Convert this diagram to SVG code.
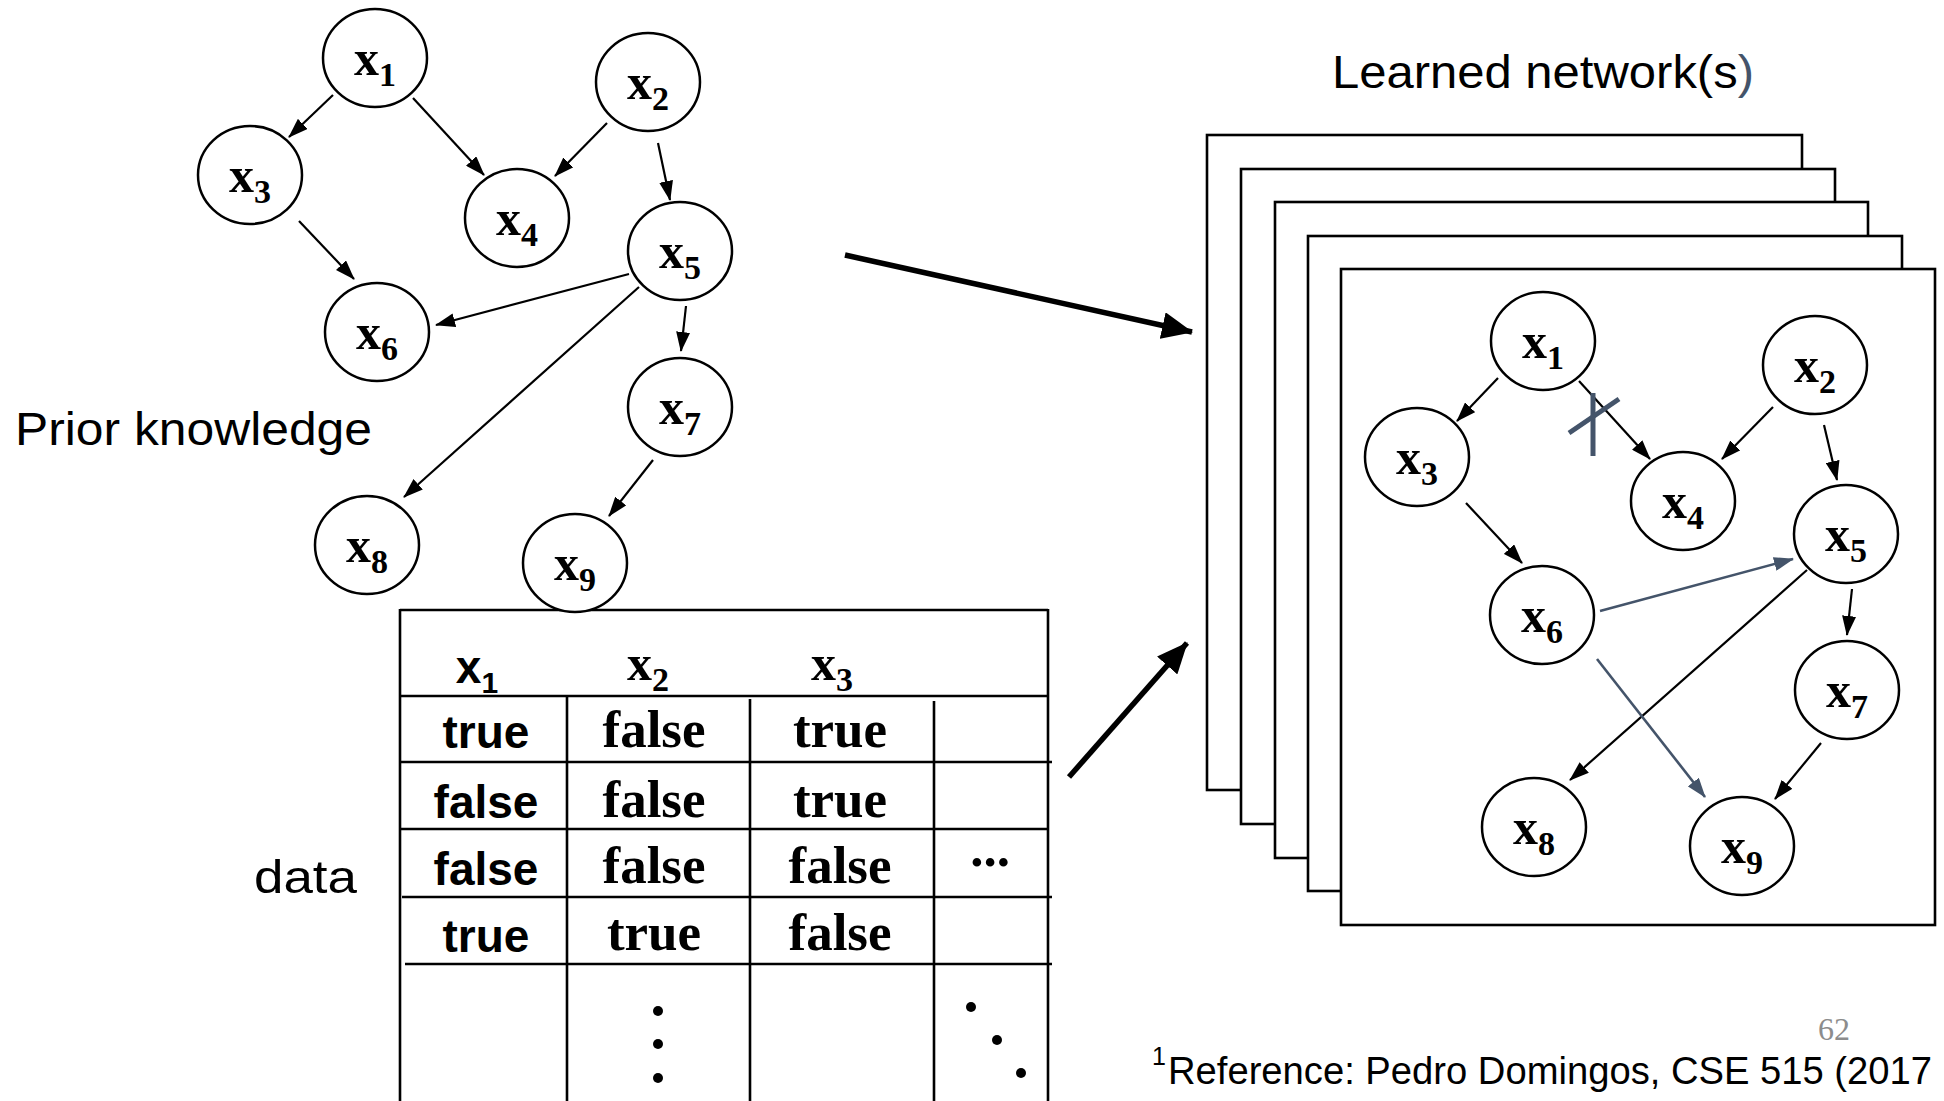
<svg xmlns="http://www.w3.org/2000/svg" width="1944" height="1101" viewBox="0 0 1944 1101">
<style>
  .node ellipse { fill: #fff; stroke: #000; stroke-width: 2.5; }
  .lbl { font-family: "Liberation Serif", "Times New Roman", serif; font-weight: bold; font-size: 50px; fill: #000; text-anchor: middle; }
  .sub { font-size: 34px; }
  .edge { stroke: #000; stroke-width: 2.2; fill: none; marker-end: url(#ah); }
  .edge2 { stroke: #44546A; stroke-width: 2.6; fill: none; marker-end: url(#ah2); }
  .big { stroke: #000; stroke-width: 5.5; fill: none; marker-end: url(#bh); }
  .frame { fill: #fff; stroke: #000; stroke-width: 2.6; }
  .tline { stroke: #000; stroke-width: 2.6; fill: none; }
  .serifcell { font-family: "Liberation Serif", "Times New Roman", serif; font-weight: bold; font-size: 53px; text-anchor: middle; }
  .sanscell { font-family: "Liberation Sans", Arial, sans-serif; font-weight: bold; font-size: 46px; text-anchor: middle; }
  .caption { font-family: "Liberation Sans", Arial, sans-serif; font-size: 46px; fill: #000; }
</style>
<defs>
  <marker id="ah" markerUnits="userSpaceOnUse" markerWidth="20" markerHeight="14" refX="19" refY="7" orient="auto">
    <path d="M0,0 L20,7 L0,14 z" fill="#000"/>
  </marker>
  <marker id="ah2" markerUnits="userSpaceOnUse" markerWidth="20" markerHeight="14" refX="19" refY="7" orient="auto">
    <path d="M0,0 L20,7 L0,14 z" fill="#44546A"/>
  </marker>
  <marker id="bh" markerUnits="userSpaceOnUse" markerWidth="31" markerHeight="27" refX="30" refY="13.5" orient="auto">
    <path d="M0,0 L31,13.5 L0,27 z" fill="#000"/>
  </marker>
</defs>
<rect x="0" y="0" width="1944" height="1101" fill="#fff"/>

<!-- captions -->
<text class="caption" x="15" y="445" textLength="357" lengthAdjust="spacingAndGlyphs">Prior knowledge</text>
<text class="caption" x="254" y="893" textLength="103" lengthAdjust="spacingAndGlyphs">data</text>
<text class="caption" x="1332" y="88" textLength="422" lengthAdjust="spacingAndGlyphs">Learned network(s<tspan fill="#44546A">)</tspan></text>

<!-- data table -->
<g id="table">
  <line class="tline" x1="400" y1="610" x2="1048" y2="610"/>
  <line class="tline" x1="400" y1="609" x2="400" y2="1101"/>
  <line class="tline" x1="1048" y1="609" x2="1048" y2="1101"/>
  <line class="tline" x1="400" y1="696" x2="1048" y2="696"/>
  <line class="tline" x1="400" y1="762" x2="1052" y2="762"/>
  <line class="tline" x1="401" y1="829" x2="1048" y2="829"/>
  <line class="tline" x1="402" y1="897" x2="1052" y2="897"/>
  <line class="tline" x1="405" y1="964" x2="1052" y2="964"/>
  <line class="tline" x1="567" y1="696" x2="567" y2="1101"/>
  <line class="tline" x1="750" y1="699" x2="750" y2="1101"/>
  <line class="tline" x1="934" y1="701" x2="934" y2="1101"/>
  <text class="sanscell" x="477" y="683" font-size="40">x<tspan dy="10" font-size="30">1</tspan></text>
  <text class="lbl" x="648" y="680">x<tspan class="sub" dy="11">2</tspan></text>
  <text class="lbl" x="832" y="680">x<tspan class="sub" dy="11">3</tspan></text>
  <text class="sanscell" x="486" y="748">true</text>
  <text class="serifcell" x="654" y="747">false</text>
  <text class="serifcell" x="840" y="747">true</text>
  <text class="sanscell" x="486" y="818">false</text>
  <text class="serifcell" x="654" y="817">false</text>
  <text class="serifcell" x="840" y="817">true</text>
  <text class="sanscell" x="486" y="885">false</text>
  <text class="serifcell" x="654" y="883">false</text>
  <text class="serifcell" x="840" y="883">false</text>
  <text class="serifcell" x="990" y="866">...</text>
  <text class="sanscell" x="486" y="952">true</text>
  <text class="serifcell" x="654" y="950">true</text>
  <text class="serifcell" x="840" y="950">false</text>
  <circle cx="658" cy="1011" r="5"/>
  <circle cx="658" cy="1044" r="5"/>
  <circle cx="658" cy="1078" r="5"/>
  <circle cx="971" cy="1007" r="5"/>
  <circle cx="997" cy="1040" r="5"/>
  <circle cx="1021" cy="1073" r="5"/>
</g>

<!-- stacked frames -->
<g id="frames">
  <rect class="frame" x="1207" y="135" width="595" height="655"/>
  <rect class="frame" x="1241" y="169" width="594" height="655"/>
  <rect class="frame" x="1275" y="202" width="593" height="656"/>
  <rect class="frame" x="1308" y="236" width="594" height="655"/>
  <rect class="frame" x="1341" y="269" width="594" height="656"/>
</g>

<!-- connectors -->
<g id="connectors">
  <line class="edge" x1="333" y1="95" x2="289" y2="137"/>
  <line class="edge" x1="413" y1="98" x2="484" y2="175"/>
  <line class="edge" x1="607" y1="123" x2="555" y2="176"/>
  <line class="edge" x1="658" y1="143" x2="670" y2="200"/>
  <line class="edge" x1="299" y1="221" x2="354" y2="279"/>
  <line class="edge" x1="629" y1="274" x2="436" y2="325"/>
  <line class="edge" x1="639" y1="287" x2="404" y2="497"/>
  <line class="edge" x1="686" y1="306" x2="681" y2="351"/>
  <line class="edge" x1="653" y1="460" x2="609" y2="516"/>

  <line class="big" x1="845" y1="255" x2="1192" y2="332"/>
  <line class="big" x1="1069" y1="777" x2="1187" y2="643"/>

  <line class="edge" x1="1498" y1="378" x2="1457" y2="421"/>
  <line class="edge" x1="1579" y1="381" x2="1650" y2="459"/>
  <line class="edge" x1="1773" y1="407" x2="1722" y2="459"/>
  <line class="edge" x1="1824" y1="425" x2="1837" y2="480"/>
  <line class="edge" x1="1466" y1="503" x2="1522" y2="563"/>
  <line class="edge2" x1="1600" y1="611" x2="1793" y2="559"/>
  <line class="edge" x1="1807" y1="570" x2="1570" y2="780"/>
  <line class="edge" x1="1852" y1="589" x2="1847" y2="635"/>
  <line class="edge2" x1="1597" y1="659" x2="1705" y2="797"/>
  <line class="edge" x1="1821" y1="743" x2="1775" y2="799"/>
  <line x1="1593" y1="393" x2="1593" y2="456" stroke="#44546A" stroke-width="5"/>
  <line x1="1569" y1="433" x2="1619" y2="399" stroke="#44546A" stroke-width="5"/>
</g>

<!-- prior network nodes -->
<g id="p1" class="node"><ellipse cx="375" cy="58" rx="52" ry="49"/><text class="lbl" x="375" y="75">x<tspan class="sub" dy="11">1</tspan></text></g>
<g id="p2" class="node"><ellipse cx="648" cy="82" rx="52" ry="49"/><text class="lbl" x="648" y="99">x<tspan class="sub" dy="11">2</tspan></text></g>
<g id="p3" class="node"><ellipse cx="250" cy="175" rx="52" ry="49"/><text class="lbl" x="250" y="192">x<tspan class="sub" dy="11">3</tspan></text></g>
<g id="p4" class="node"><ellipse cx="517" cy="218" rx="52" ry="49"/><text class="lbl" x="517" y="235">x<tspan class="sub" dy="11">4</tspan></text></g>
<g id="p5" class="node"><ellipse cx="680" cy="251" rx="52" ry="49"/><text class="lbl" x="680" y="268">x<tspan class="sub" dy="11">5</tspan></text></g>
<g id="p6" class="node"><ellipse cx="377" cy="332" rx="52" ry="49"/><text class="lbl" x="377" y="349">x<tspan class="sub" dy="11">6</tspan></text></g>
<g id="p7" class="node"><ellipse cx="680" cy="407" rx="52" ry="49"/><text class="lbl" x="680" y="424">x<tspan class="sub" dy="11">7</tspan></text></g>
<g id="p8" class="node"><ellipse cx="367" cy="545" rx="52" ry="49"/><text class="lbl" x="367" y="562">x<tspan class="sub" dy="11">8</tspan></text></g>
<g id="p9" class="node"><ellipse cx="575" cy="563" rx="52" ry="49"/><text class="lbl" x="575" y="580">x<tspan class="sub" dy="11">9</tspan></text></g>

<!-- learned network nodes -->
<g id="l1" class="node"><ellipse cx="1543" cy="341" rx="52" ry="49"/><text class="lbl" x="1543" y="358">x<tspan class="sub" dy="11">1</tspan></text></g>
<g id="l2" class="node"><ellipse cx="1815" cy="365" rx="52" ry="49"/><text class="lbl" x="1815" y="382">x<tspan class="sub" dy="11">2</tspan></text></g>
<g id="l3" class="node"><ellipse cx="1417" cy="457" rx="52" ry="49"/><text class="lbl" x="1417" y="474">x<tspan class="sub" dy="11">3</tspan></text></g>
<g id="l4" class="node"><ellipse cx="1683" cy="501" rx="52" ry="49"/><text class="lbl" x="1683" y="518">x<tspan class="sub" dy="11">4</tspan></text></g>
<g id="l5" class="node"><ellipse cx="1846" cy="534" rx="52" ry="49"/><text class="lbl" x="1846" y="551">x<tspan class="sub" dy="11">5</tspan></text></g>
<g id="l6" class="node"><ellipse cx="1542" cy="615" rx="52" ry="49"/><text class="lbl" x="1542" y="632">x<tspan class="sub" dy="11">6</tspan></text></g>
<g id="l7" class="node"><ellipse cx="1847" cy="690" rx="52" ry="49"/><text class="lbl" x="1847" y="707">x<tspan class="sub" dy="11">7</tspan></text></g>
<g id="l8" class="node"><ellipse cx="1534" cy="827" rx="52" ry="49"/><text class="lbl" x="1534" y="844">x<tspan class="sub" dy="11">8</tspan></text></g>
<g id="l9" class="node"><ellipse cx="1742" cy="846" rx="52" ry="49"/><text class="lbl" x="1742" y="863">x<tspan class="sub" dy="11">9</tspan></text></g>

<!-- footer -->
<text x="1818" y="1040" font-family="Liberation Serif, Times New Roman, serif" font-size="32" fill="#8c8c8c">62</text>
<text x="1152" y="1065" font-family="Liberation Sans, Arial, sans-serif" font-size="25" fill="#000">1</text>
<text x="1168" y="1084" font-family="Liberation Sans, Arial, sans-serif" font-size="38" fill="#000" textLength="764" lengthAdjust="spacingAndGlyphs">Reference: Pedro Domingos, CSE 515 (2017</text>
</svg>
